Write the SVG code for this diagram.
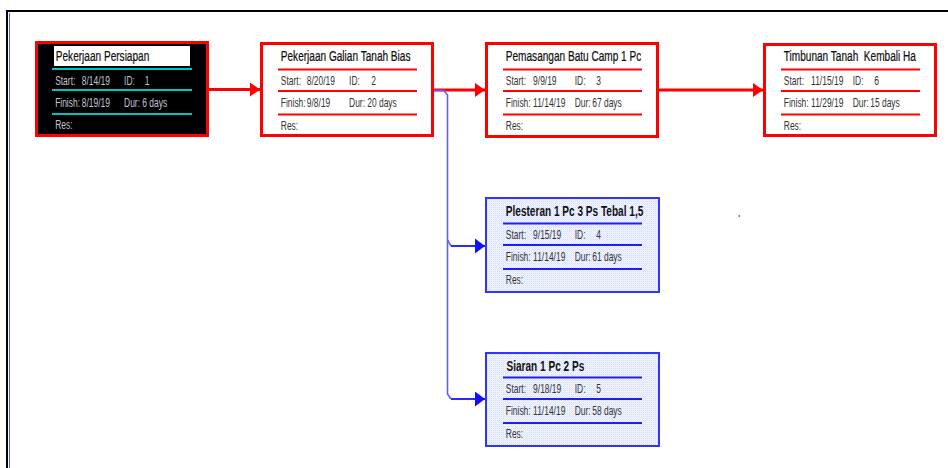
<svg xmlns="http://www.w3.org/2000/svg" width="948" height="468" viewBox="0 0 948 468">
<style>
text{font-family:"Liberation Sans",Arial,sans-serif;}
.title{font-size:15.5px;fill:#111;stroke:#111;stroke-width:0.25;}
.titleb{font-size:15.5px;fill:#111;font-weight:bold;}
.row{font-size:13px;fill:#333;}
.rowd{font-size:13px;fill:#c4c4d4;}
.boxr{fill:#fff;stroke:#ff0000;stroke-width:3;}
.boxk{fill:#000;stroke:#ff0000;stroke-width:3;}
.boxb{fill:url(#dots);stroke:#3333ff;stroke-width:2;}
.sepr{stroke:#ff0000;stroke-width:2;fill:none;}
.sepb{stroke:#2020ee;stroke-width:2;fill:none;}
.sepc{stroke:#00c4c4;stroke-width:2;fill:none;}
.cr{stroke:#ff0000;stroke-width:3;fill:none;}
.cb{stroke:#6060ff;stroke-width:1.6;fill:none;}
.cbh{stroke:#2a2aff;stroke-width:2;fill:none;}
</style>
<defs>
<pattern id="dots" width="2" height="2" patternUnits="userSpaceOnUse">
<rect width="2" height="2" fill="#f3f6ff"/>
<rect width="1" height="1" fill="#d4defc"/>
<rect x="1" y="1" width="1" height="1" fill="#e4eaff"/>
</pattern>
<marker id="ar" markerUnits="userSpaceOnUse" markerWidth="11" markerHeight="15" refX="10" refY="7" orient="auto">
<path d="M0,0 L10,7 L0,14 z" fill="#ff0000"/>
</marker>
<marker id="ab" markerUnits="userSpaceOnUse" markerWidth="11" markerHeight="16" refX="10" refY="7.5" orient="auto">
<path d="M0,0 L10,7.5 L0,15 z" fill="#1010ff"/>
</marker>
<clipPath id="tclip"><rect x="0" y="0" width="241" height="30"/></clipPath>
</defs>
<rect width="948" height="468" fill="#fff"/>
<g id="frame">
<path d="M7,468 V11 H948" stroke="#000" stroke-width="2" fill="none"/>
<path d="M9.5,13 V468" stroke="#4a6ad8" stroke-width="1" fill="none"/>
<rect x="738.5" y="89" width="1.5" height="2" fill="#555"/>
<rect x="738.5" y="215" width="1.5" height="2" fill="#777"/>
</g>
<g id="connectors">
<path class="cr" d="M209,89.5 H260" marker-end="url(#ar)"/>
<path class="cr" d="M434,90 H485" marker-end="url(#ar)"/>
<path class="cr" d="M659,90 H763" marker-end="url(#ar)"/>
<path class="cb" d="M434,90.5 H444 L447.5,95 V394 L451,399"/>
<path class="cb" d="M447.5,240 L451,246"/>
<path class="cbh" d="M451,246 H485" marker-end="url(#ab)"/>
<path class="cbh" d="M451,399 H485" marker-end="url(#ab)"/>
</g>
<g id="node1" transform="translate(35,41)">
<rect class="boxk" x="1.5" y="1.5" width="171" height="93"/>
<rect x="19" y="5" width="136" height="20" fill="#fff"/>
<path class="sepc" d="M17,28 H157 M17,49 H157 M17,73 H157"/>
<g transform="scale(0.65,1)">
<text class="title" x="32" y="20">Pekerjaan Persiapan</text>
<text class="rowd" y="44"><tspan x="31">Start:</tspan><tspan x="72">8/14/19</tspan><tspan x="137">ID:</tspan><tspan x="169">1</tspan></text>
<text class="rowd" y="66"><tspan x="31">Finish:</tspan><tspan x="72">8/19/19</tspan><tspan x="137">Dur:</tspan><tspan x="165">6 days</tspan></text>
<text class="rowd" x="31" y="88">Res:</text>
</g>
</g>
<g id="node2" transform="translate(260,42)">
<rect class="boxr" x="1.5" y="1.5" width="171" height="92"/>
<path class="sepr" d="M18,27.5 H157 M18,49 H157 M18,72.5 H157"/>
<g transform="scale(0.65,1)">
<text class="title" x="32" y="19">Pekerjaan Galian Tanah Bias</text>
<text class="row" y="43"><tspan x="32">Start:</tspan><tspan x="72">8/20/19</tspan><tspan x="137">ID:</tspan><tspan x="171">2</tspan></text>
<text class="row" y="65"><tspan x="32">Finish:</tspan><tspan x="72">9/8/19</tspan><tspan x="137">Dur:</tspan><tspan x="165">20 days</tspan></text>
<text class="row" x="32" y="88">Res:</text>
</g>
</g>
<g id="node3" transform="translate(485,42)">
<rect class="boxr" x="1.5" y="1.5" width="171" height="93"/>
<path class="sepr" d="M18,27.5 H157 M18,49 H157 M18,72.5 H157"/>
<g transform="scale(0.65,1)">
<text class="title" x="32" y="19" clip-path="url(#tclip)">Pemasangan Batu Camp 1 Pc</text>
<text class="row" y="43"><tspan x="32">Start:</tspan><tspan x="74">9/9/19</tspan><tspan x="138">ID:</tspan><tspan x="171">3</tspan></text>
<text class="row" y="65"><tspan x="32">Finish:</tspan><tspan x="74">11/14/19</tspan><tspan x="138">Dur:</tspan><tspan x="165">67 days</tspan></text>
<text class="row" x="32" y="88">Res:</text>
</g>
</g>
<g id="node6" transform="translate(763,43)">
<rect class="boxr" x="1.5" y="1.5" width="171" height="91"/>
<path class="sepr" d="M18,26.5 H157 M18,48 H157 M18,71.5 H157"/>
<g transform="scale(0.65,1)">
<text class="title" x="32" y="18" clip-path="url(#tclip)" style="white-space:pre">Timbunan Tanah  Kembali Ha</text>
<text class="row" y="42"><tspan x="32">Start:</tspan><tspan x="74">11/15/19</tspan><tspan x="138">ID:</tspan><tspan x="171">6</tspan></text>
<text class="row" y="64"><tspan x="32">Finish:</tspan><tspan x="74">11/29/19</tspan><tspan x="138">Dur:</tspan><tspan x="165">15 days</tspan></text>
<text class="row" x="32" y="87">Res:</text>
</g>
</g>
<g id="node4" transform="translate(485,197)">
<rect class="boxb" x="1" y="1" width="173" height="94"/>
<path class="sepb" d="M18,26.5 H157 M18,48 H157 M18,72 H157"/>
<g transform="scale(0.65,1)">
<text class="titleb" x="32" y="19">Plesteran 1 Pc 3 Ps Tebal 1,5</text>
<text class="row" y="42"><tspan x="32">Start:</tspan><tspan x="74">9/15/19</tspan><tspan x="138">ID:</tspan><tspan x="171">4</tspan></text>
<text class="row" y="64"><tspan x="32">Finish:</tspan><tspan x="74">11/14/19</tspan><tspan x="138">Dur:</tspan><tspan x="165">61 days</tspan></text>
<text class="row" x="32" y="87">Res:</text>
</g>
</g>
<g id="node5" transform="translate(485,352)">
<rect class="boxb" x="1" y="1" width="173" height="93"/>
<path class="sepb" d="M18,25.5 H157 M18,47 H157 M18,71 H157"/>
<g transform="scale(0.65,1)">
<text class="titleb" x="33" y="19">Siaran 1 Pc 2 Ps</text>
<text class="row" y="41"><tspan x="32">Start:</tspan><tspan x="74">9/18/19</tspan><tspan x="138">ID:</tspan><tspan x="171">5</tspan></text>
<text class="row" y="63"><tspan x="32">Finish:</tspan><tspan x="74">11/14/19</tspan><tspan x="138">Dur:</tspan><tspan x="165">58 days</tspan></text>
<text class="row" x="32" y="86">Res:</text>
</g>
</g>
</svg>
